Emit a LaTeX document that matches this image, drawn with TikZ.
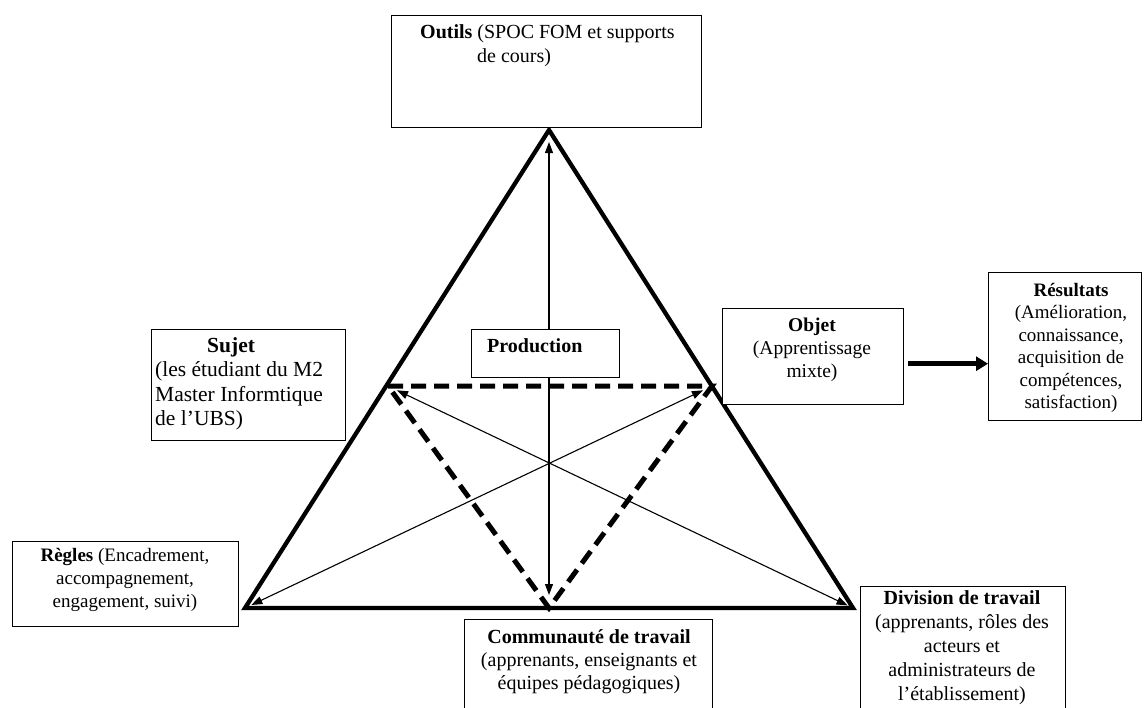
\documentclass[tikz,border=0pt]{standalone}
\usepackage{fontspec}
\setmainfont{Liberation Serif}
\usetikzlibrary{arrows.meta}
\tikzset{
  box/.style={draw, line width=1.4pt, fill=white, inner sep=0pt, anchor=north west},
  txt/.style={inner sep=0pt, font=\fontsize{20}{24}\selectfont},
  thinarrow/.style={line width=1.1pt, {Triangle[length=11pt,width=8pt]}-{Triangle[length=11pt,width=8pt]}},
  bigtri/.style={line width=4.3pt, line join=miter},
  dashtri/.style={line width=5pt, dash pattern=on 15pt off 8pt},
  thickarrow/.style={line width=5pt, -{Triangle[length=12pt,width=14pt]}}
}
\begin{document}
\begin{tikzpicture}[x=1pt,y=-1pt]
\useasboundingbox (0,0) rectangle (1148,707);
\clip (0,0) rectangle (1148,707);
\fill[white] (0,0) rectangle (1148,707);
% triangle vertices
\coordinate (A) at (549,130);
\coordinate (L) at (245,608);
\coordinate (R) at (853,608);
\coordinate (P) at (388,386);
\coordinate (Q) at (712,386);
\coordinate (B) at (549,608);
% thin arrows
\draw[thinarrow, shorten <=13pt, shorten >=12pt] (B) -- (A);
\draw[thinarrow, shorten <=10pt, shorten >=6pt] (P) -- (R);
\draw[thinarrow, shorten <=10pt, shorten >=7pt] (Q) -- (L);
% big triangle
\draw[bigtri] (A) -- (R) -- (L) -- cycle;
% dashed triangle
\draw[dashtri] (P) -- (Q) -- (B) -- cycle;
% boxes
\node[box, minimum width=310pt, minimum height=112pt] (outils) at (391,15) {};
\node[txt, anchor=north west, align=left] (outilsT) at (420,24) {\textbf{Outils} (SPOC FOM et supports\\\hspace*{57pt}de cours)};
\node[box, minimum width=194pt, minimum height=111pt] (sujet) at (151,329) {};
\node[txt, anchor=north west, align=left, font=\fontsize{21.5}{24.5}\selectfont] (sujetT) at (155,337) {\hspace*{52pt}\textbf{Sujet}\\(les étudiant du M2\\Master Informtique\\de l'UBS)};
\node[box, minimum width=148pt, minimum height=48pt] (prod) at (471,329) {};
\node[txt, anchor=base west] (prodT) at (487,352) {\textbf{Production}};
\node[box, minimum width=181pt, minimum height=96pt] (objet) at (722,308) {};
\node[txt, anchor=north, align=center, font=\fontsize{19.5}{23}\selectfont] (objetT) at (812,318) {\textbf{Objet}\\(Apprentissage\\mixte)};
\node[box, minimum width=153pt, minimum height=148pt] (res) at (988,272) {};
\node[txt, anchor=north, align=center, font=\fontsize{19}{22.5}\selectfont] (resT) at (1071,283) {\textbf{Résultats}\\(Amélioration,\\connaissance,\\acquisition de\\compétences,\\satisfaction)};
\node[box, minimum width=226pt, minimum height=85pt] (regles) at (12,541) {};
\node[txt, anchor=north, align=center, font=\fontsize{19}{23}\selectfont] (reglesT) at (125,548) {\textbf{Règles} (Encadrement,\\accompagnement,\\engagement, suivi)};
\node[box, minimum width=248pt, minimum height=110pt] (comm) at (464,619) {};
\node[txt, anchor=north, align=center, font=\fontsize{20}{23}\selectfont] (commT) at (589,629) {\textbf{Communauté de travail}\\(apprenants, enseignants et\\équipes pédagogiques)};
\node[box, minimum width=205pt, minimum height=140pt] (div) at (860,586) {};
\node[txt, anchor=north, align=center] (divT) at (962,590) {\textbf{Division de travail}\\(apprenants, rôles des\\acteurs et\\administrateurs de\\l’établissement)};
% arrow objet -> resultats
\coordinate (oa) at ([shift={(4,7)}]objet.east);
\draw[thickarrow] (oa) -- (oa -| res.west);
\end{tikzpicture}
\end{document}
